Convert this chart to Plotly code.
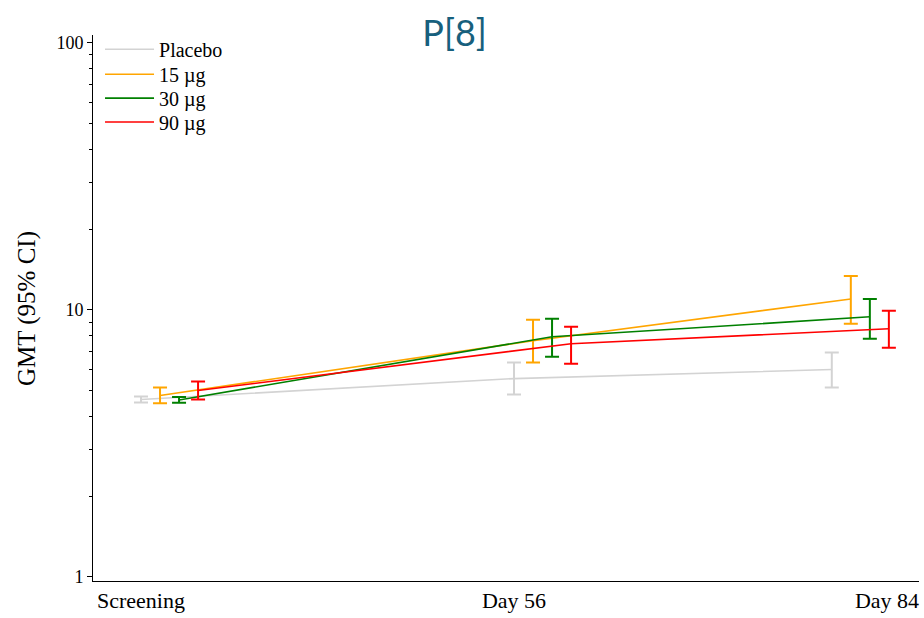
import plotly.graph_objects as go

# ---- data ----
timepoints = ["Screening", "Day 56", "Day 84"]
groups = ["Placebo", "15 µg", "30 µg", "90 µg"]
gmt = {
    "Placebo": [4.62, 5.53, 5.98],
    "15 µg":   [4.78, 7.66, 10.99],
    "30 µg":   [4.60, 7.93, 9.42],
    "90 µg":   [4.99, 7.47, 8.50],
}
ci_low = {
    "Placebo": [4.50, 4.82, 5.12],
    "15 µg":   [4.47, 6.35, 8.87],
    "30 µg":   [4.49, 6.68, 7.80],
    "90 µg":   [4.62, 6.29, 7.22],
}
ci_high = {
    "Placebo": [4.74, 6.35, 6.92],
    "15 µg":   [5.12, 9.18, 13.4],
    "30 µg":   [4.72, 9.26, 10.99],
    "90 µg":   [5.39, 8.64, 9.92],
}

# ---- styling / layout parameters ----
colors = {"Placebo": "#d3d3d3", "15 µg": "#ffa500", "30 µg": "#008000", "90 µg": "#ff0000"}
base_pos = [0, 1, 2]
dodge_step = 0.051
group_shift = [0.0, 0.0, -0.148]
legend_ids = ["legend", "legend2", "legend3", "legend4"]
legend_row_px = [50, 75, 99, 123]   # vertical centre of each legend row (pixels from top)

fig = go.Figure()
for k, g in enumerate(groups):
    xs = [base_pos[i] + group_shift[i] + k * dodge_step for i in range(len(timepoints))]
    ys = gmt[g]
    plus = [h - v for h, v in zip(ci_high[g], ys)]
    minus = [v - l for v, l in zip(ys, ci_low[g])]
    fig.add_trace(go.Scatter(
        x=xs, y=ys, mode="lines", name=g, legend=legend_ids[k],
        line=dict(color=colors[g], width=1.6),
        error_y=dict(type="data", symmetric=False, array=plus, arrayminus=minus,
                     color=colors[g], thickness=2, width=7),
    ))

plot_top, plot_h = 35, 548
legend_layout = {}
for lid, row in zip(legend_ids, legend_row_px):
    top = row - 20.2
    legend_layout[lid] = dict(x=0.0085, y=(plot_top + plot_h - top) / plot_h,
                              xanchor="left", yanchor="top",
                              font=dict(size=20), itemwidth=49,
                              bgcolor="rgba(0,0,0,0)")

fig.update_layout(
    width=924, height=618,
    margin=dict(l=93, r=5, t=35, b=35),
    paper_bgcolor="white", plot_bgcolor="white",
    font=dict(family="Liberation Serif, Times New Roman, serif", color="black"),
    title=dict(text="P[8]", x=0.492, xref="container", xanchor="center",
               y=1 - 33 / 618, yref="container", yanchor="middle",
               font=dict(family="Lato, Open Sans, sans-serif", size=36, color="#17607d")),
    showlegend=True,
    xaxis=dict(range=[-0.1287, 2.0858], tickvals=base_pos, ticktext=timepoints,
               showgrid=False, zeroline=False, showline=True, linecolor="black",
               linewidth=1, ticks="", tickfont=dict(size=22)),
    yaxis=dict(type="log", range=[-0.015, 2.029], tickvals=[1, 10, 100],
               ticktext=["1", "10", "100"], showgrid=False, zeroline=False,
               showline=True, linecolor="black", linewidth=1,
               ticks="outside", ticklen=5, tickcolor="black", tickfont=dict(size=18),
               minor=dict(ticks="outside", ticklen=3, dtick="D1", tickcolor="black",
                          showgrid=False)),
    annotations=[dict(text="GMT (95% CI)", textangle=-90, xref="paper", yref="paper",
                      x=(27 - 93) / 826, y=0.498, showarrow=False,
                      font=dict(size=25), xanchor="center", yanchor="middle")],
    **legend_layout,
)

fig.write_html("out.html")
